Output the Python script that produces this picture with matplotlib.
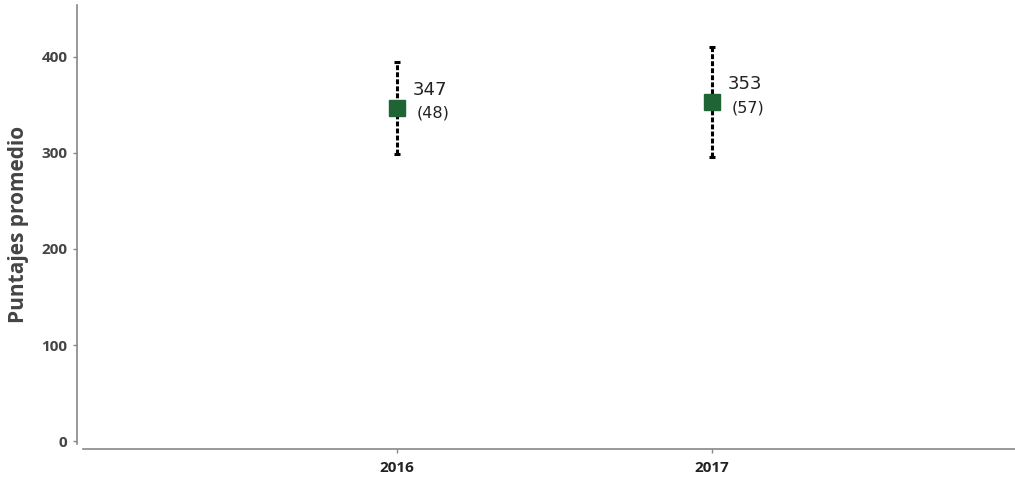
import matplotlib
matplotlib.use("Agg")
import matplotlib.pyplot as plt

years = ["2016", "2017"]
means = [347, 353]
errors = [48, 57]
yticks = [0, 100, 200, 300, 400]

plt.rcParams['font.family'] = ['Open Sans', 'DejaVu Sans']

fig = plt.figure(figsize=(10.15, 4.8), dpi=100)
ax = fig.add_axes([83/1015, 1 - 444/480, 1 - 83/1015, (444 - 5)/480])

x = list(range(len(years)))
eb = ax.errorbar(x, means, yerr=errors, fmt='s', color='#1e6434', markersize=12,
                 ecolor='black', elinewidth=2.2, capsize=2, capthick=2.2, zorder=3)
for line in eb[2]:
    line.set_linestyle((0, (1.6, 0.7)))

for xi, m, e in zip(x, means, errors):
    ax.annotate(str(m), (xi, m), xytext=(11, 13), textcoords='offset points',
                fontsize=13, color='#222222', ha='left', va='center',
                family=['DejaVu Sans'])
    ax.annotate(f"({e})", (xi, m), xytext=(14, -4), textcoords='offset points',
                fontsize=11.5, color='#222222', ha='left', va='center',
                family=['DejaVu Sans'])

ax.set_xlim(-0.997, 1.962)
ax.set_ylim(-3, 454)

for s in ['top', 'right']:
    ax.spines[s].set_visible(False)
ax.spines['left'].set_position(('outward', 4.3))
ax.spines['bottom'].set_position(('outward', 3.6))
ax.spines['left'].set_bounds(-3, 454)
for s in ['left', 'bottom']:
    ax.spines[s].set_color('#888888')
    ax.spines[s].set_linewidth(1.2)
ax.tick_params(axis='both', colors='#888888', length=3, width=1)
ax.tick_params(axis='x', pad=6)
ax.tick_params(axis='y', pad=4)

ax.set_xticks(x)
ax.set_xticklabels(years)
ax.set_yticks(yticks)
ax.set_yticklabels([str(t) for t in yticks])
for lab in ax.get_xticklabels():
    lab.set_fontsize(11)
    lab.set_fontweight('bold')
    lab.set_color('#222222')
for lab in ax.get_yticklabels():
    lab.set_fontsize(11)
    lab.set_fontweight('bold')
    lab.set_color('#444444')
ax.set_ylabel("Puntajes promedio", fontsize=15, fontweight='bold', color='#444444', labelpad=9)

fig.savefig("out.png", dpi=100)
